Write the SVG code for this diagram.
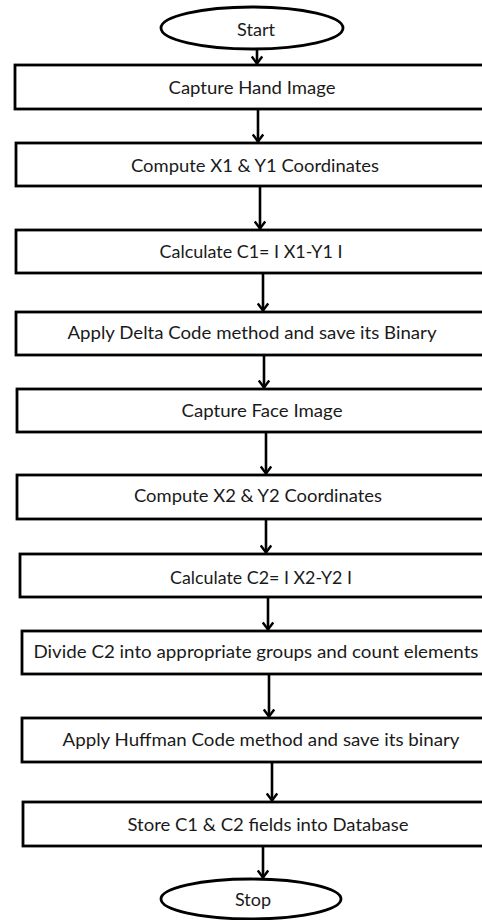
<svg xmlns="http://www.w3.org/2000/svg" width="482" height="920" viewBox="0 0 482 920">
<defs>
<style>
.box{fill:#fff;stroke:#000;stroke-width:2.8}
.t{font-family:Lato,"Liberation Sans",sans-serif;font-size:17px;fill:#1a1a1a;text-anchor:middle;dominant-baseline:central}
.c{stroke:#000;stroke-width:2.6;fill:none}
</style>
<marker id="ah" viewBox="0 0 10 12" refX="9" refY="6" markerWidth="10" markerHeight="12" markerUnits="userSpaceOnUse" orient="auto">
<path d="M1.5,0.8 L8.5,6 L1.5,11.2" fill="none" stroke="#000" stroke-width="2.4"/>
</marker>
</defs>
<rect width="482" height="920" fill="#fff"/>
<g id="connectors">
<line class="c" x1="257" y1="49" x2="257" y2="64" marker-end="url(#ah)"/>
<line class="c" x1="258" y1="109" x2="258" y2="142" marker-end="url(#ah)"/>
<line class="c" x1="260" y1="186" x2="260" y2="229" marker-end="url(#ah)"/>
<line class="c" x1="263" y1="273" x2="263" y2="311" marker-end="url(#ah)"/>
<line class="c" x1="264" y1="355" x2="264" y2="388" marker-end="url(#ah)"/>
<line class="c" x1="266" y1="432" x2="266" y2="474" marker-end="url(#ah)"/>
<line class="c" x1="266" y1="519" x2="266" y2="553" marker-end="url(#ah)"/>
<line class="c" x1="268" y1="597" x2="268" y2="630" marker-end="url(#ah)"/>
<line class="c" x1="269" y1="674" x2="269" y2="717" marker-end="url(#ah)"/>
<line class="c" x1="272" y1="762" x2="272" y2="801" marker-end="url(#ah)"/>
<line class="c" x1="263" y1="846" x2="263" y2="878" marker-end="url(#ah)"/>
</g>
<g id="start"><ellipse class="box" cx="252" cy="28" rx="91" ry="21"/><text class="t" x="256" y="29" textLength="38" lengthAdjust="spacingAndGlyphs">Start</text></g>
<g id="n1"><rect class="box" x="15" y="65" width="480" height="44"/><text class="t" x="252" y="87" textLength="167" lengthAdjust="spacingAndGlyphs">Capture Hand Image</text></g>
<g id="n2"><rect class="box" x="16" y="143" width="480" height="43"/><text class="t" x="255" y="165" textLength="248" lengthAdjust="spacingAndGlyphs">Compute X1 &amp; Y1 Coordinates</text></g>
<g id="n3"><rect class="box" x="16" y="230" width="480" height="43"/><text class="t" x="251" y="251" textLength="183" lengthAdjust="spacingAndGlyphs">Calculate C1= I X1-Y1 I</text></g>
<g id="n4"><rect class="box" x="16" y="312" width="480" height="43"/><text class="t" x="252" y="332" textLength="369" lengthAdjust="spacingAndGlyphs">Apply Delta Code method and save its Binary</text></g>
<g id="n5"><rect class="box" x="17" y="389" width="480" height="43"/><text class="t" x="262" y="410" textLength="161" lengthAdjust="spacingAndGlyphs">Capture Face Image</text></g>
<g id="n6"><rect class="box" x="17" y="475" width="480" height="44"/><text class="t" x="258" y="495" textLength="248" lengthAdjust="spacingAndGlyphs">Compute X2 &amp; Y2 Coordinates</text></g>
<g id="n7"><rect class="box" x="20" y="554" width="480" height="43"/><text class="t" x="261" y="577" textLength="182" lengthAdjust="spacingAndGlyphs">Calculate C2= I X2-Y2 I</text></g>
<g id="n8"><rect class="box" x="22" y="631" width="480" height="43"/><text class="t" x="256" y="651" textLength="445" lengthAdjust="spacingAndGlyphs">Divide C2 into appropriate groups and count elements</text></g>
<g id="n9"><rect class="box" x="22" y="718" width="480" height="44"/><text class="t" x="261" y="739" textLength="397" lengthAdjust="spacingAndGlyphs">Apply Huffman Code method and save its binary</text></g>
<g id="n10"><rect class="box" x="23" y="802" width="480" height="44"/><text class="t" x="268" y="824" textLength="281" lengthAdjust="spacingAndGlyphs">Store C1 &amp; C2 fields into Database</text></g>
<g id="stop"><ellipse class="box" cx="251" cy="899" rx="90" ry="20"/><text class="t" x="253" y="899" textLength="36" lengthAdjust="spacingAndGlyphs">Stop</text></g>
</svg>
